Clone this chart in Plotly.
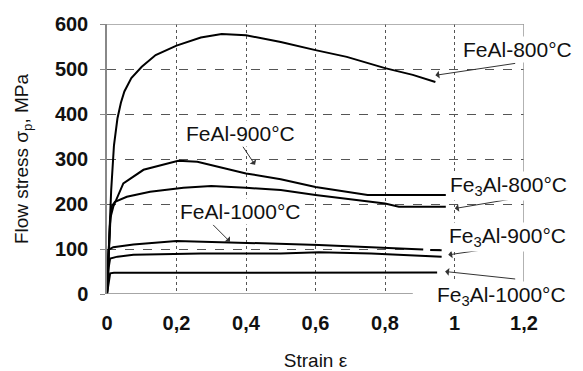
import plotly.graph_objects as go

# Data (strain, flow stress MPa)
feal800_x = [0, 0.005, 0.012, 0.02, 0.03, 0.04, 0.05, 0.07, 0.10, 0.14, 0.20, 0.27, 0.33, 0.40, 0.50, 0.60, 0.69, 0.80, 0.88, 0.945]
feal800_y = [0, 100, 230, 330, 390, 425, 450, 480, 505, 531, 552, 570, 578, 575, 560, 542, 527, 502, 487, 471]

feal900_x = [0, 0.01, 0.018, 0.047, 0.105, 0.205, 0.26, 0.40, 0.50, 0.60, 0.75, 0.975]
feal900_y = [0, 170, 194, 246, 276, 296, 294, 268, 255, 238, 220, 220]

fe3al800_x = [0, 0.008, 0.013, 0.023, 0.057, 0.124, 0.22, 0.30, 0.40, 0.50, 0.60, 0.68, 0.76, 0.80, 0.84, 0.975]
fe3al800_y = [0, 150, 194, 205, 216, 227, 236, 240, 236, 231, 220, 212, 205, 201, 194, 194]

feal1000_x = [0, 0.004, 0.018, 0.076, 0.20, 0.36, 0.50, 0.61, 0.76, 0.91, None, 0.93, 0.963]
feal1000_y = [0, 98, 104, 110, 118, 115, 111, 109, 104, 99, None, 98, 97]

fe3al900_x = [0, 0.005, 0.009, 0.03, 0.076, 0.27, 0.50, 0.61, 0.76, 0.87, 0.963]
fe3al900_y = [0, 60, 79, 83, 87, 90, 90, 93, 90, 87, 83]

fe3al1000_x = [0, 0.005, 0.009, 0.02, 0.50, 0.95]
fe3al1000_y = [0, 30, 46, 47, 47, 48]

x_ticks = [0, 0.2, 0.4, 0.6, 0.8, 1.0, 1.2]
x_tick_labels = ["0", "0,2", "0,4", "0,6", "0,8", "1", "1,2"]
y_ticks = [0, 100, 200, 300, 400, 500, 600]

# label text, label position (paper x, paper y), arrow head (x,y), arrow tail (x,y)
labels = [
    ("FeAl-800°C", 0.985, 0.904, 0.945, 486, 1.179, 513),
    ("FeAl-900°C", 0.320, 0.594, 0.426, 287, 0.388, 331),
    ("FeAl-1000°C", 0.320, 0.306, 0.354, 116, 0.301, 157),
    ("Fe<sub>3</sub>Al-800°C", 0.963, 0.400, 1.001, 190, 1.179, 213),
    ("Fe<sub>3</sub>Al-900°C", 0.960, 0.212, 0.982, 87, 1.179, 109),
    ("Fe<sub>3</sub>Al-1000°C", 0.945, -0.008, 0.973, 50, 1.179, 33),
]

series = [
    (feal800_x, feal800_y), (feal900_x, feal900_y), (fe3al800_x, fe3al800_y),
    (feal1000_x, feal1000_y), (fe3al900_x, fe3al900_y), (fe3al1000_x, fe3al1000_y),
]

fig = go.Figure()
for sx, sy in series:
    fig.add_trace(go.Scatter(x=sx, y=sy, mode="lines", line=dict(color="black", width=2),
                             showlegend=False, hoverinfo="skip", cliponaxis=False))

font_family = "Liberation Sans, Arial, sans-serif"
ann = []
for text, lx, ly, hx, hy, tx, ty in labels:
    ann.append(dict(x=hx, y=hy, ax=tx, ay=ty, xref="x", yref="y", axref="x", ayref="y",
                    text="", showarrow=True, arrowhead=1, arrowsize=1.3, arrowwidth=1,
                    arrowcolor="#333333"))
for text, lx, ly, hx, hy, tx, ty in labels:
    ann.append(dict(x=lx, y=ly, xref="paper", yref="paper", text=text, showarrow=False,
                    bgcolor="white", font=dict(family=font_family, size=21, color="#111111"),
                    xanchor="center", yanchor="middle", borderpad=1))

shapes = [
    dict(type="line", xref="x", yref="y", x0=0, x1=1.2, y0=600, y1=600, line=dict(color="#999999", width=1.5)),
    dict(type="line", xref="x", yref="y", x0=1.2, x1=1.2, y0=0, y1=600, line=dict(color="#999999", width=1.5)),
    dict(type="line", xref="x", yref="y", x0=0, x1=0.88, y0=0, y1=0, line=dict(color="#888888", width=1.5)),
]

# The page body has an 8px default margin, so the figure is sized to fit inside it.
fig.update_layout(
    width=575, height=363,
    margin=dict(l=99, r=59, t=16, b=77, autoexpand=False),
    paper_bgcolor="white", plot_bgcolor="white",
    font=dict(family=font_family, color="#111111"),
    annotations=ann, shapes=shapes,
    xaxis=dict(range=[0, 1.2], tickvals=x_ticks, ticktext=x_tick_labels, automargin=False,
               showgrid=True, gridcolor="#555555", gridwidth=1, griddash="dot",
               showline=False, zeroline=False, ticks="", ticklabelstandoff=15,
               tickfont=dict(size=20, family="Liberation Sans, Arial", weight="bold", color="#111111"),
               title=dict(text="Strain ε", font=dict(size=19), standoff=27)),
    yaxis=dict(range=[0, 600], tickvals=y_ticks, automargin=False,
               showgrid=True, gridcolor="#555555", gridwidth=1, griddash="dash",
               showline=True, linecolor="#888888", linewidth=1.5, zeroline=False,
               ticks="outside", ticklen=5, tickcolor="#888888", ticklabelstandoff=8,
               tickfont=dict(size=20, family="Liberation Sans, Arial", weight="bold", color="#111111"),
               title=dict(text="Flow stress σ<sub>p</sub>, MPa", font=dict(size=19), standoff=21)),
)

fig.write_html("out.html")
